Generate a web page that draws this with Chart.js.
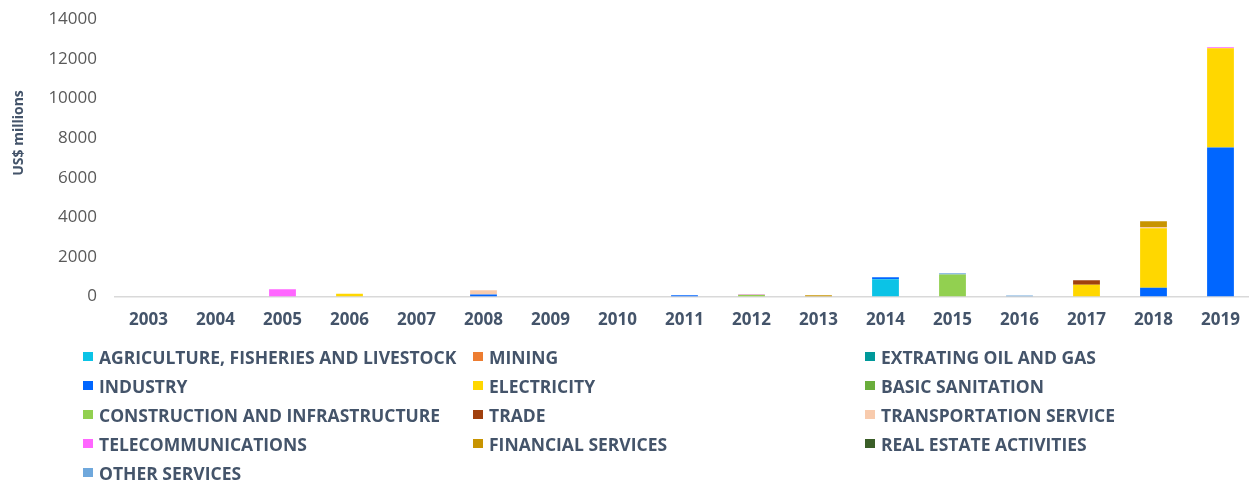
<!DOCTYPE html>
<html>
<head>
<meta charset="utf-8">
<script src="https://cdn.jsdelivr.net/npm/chart.js@4"></script>
<style>
  html, body { margin: 0; padding: 0; background: #fff; overflow: hidden; width: 1249px; height: 480px; }
  #wrap { position: absolute; left: 0; top: -9px; width: 1254px; height: 354px; }
  #legend { position: absolute; left: 83px; top: 342px; display: grid; grid-template-columns: 390px 392px 390px; grid-auto-rows: 29px;
    font-family: "Open Sans", sans-serif; font-weight: 700; font-size: 17.5px; color: #44546A; }
  .item { display: flex; align-items: center; white-space: nowrap; height: 29px; }
  .sw { width: 10px; height: 9px; margin-right: 6px; flex: none; }
</style>
</head>
<body>
<div id="wrap"><canvas id="c"></canvas></div>
<div id="legend"></div>
<script>
const years = ["2003","2004","2005","2006","2007","2008","2009","2010","2011","2012","2013","2014","2015","2016","2017","2018","2019"];
const yTicks = [0, 2000, 4000, 6000, 8000, 10000, 12000, 14000];
const yTitle = "US$ millions";
const seriesNames = ["AGRICULTURE, FISHERIES AND LIVESTOCK","MINING","EXTRATING OIL AND GAS","INDUSTRY","ELECTRICITY","BASIC SANITATION","CONSTRUCTION AND INFRASTRUCTURE","TRADE","TRANSPORTATION SERVICE","TELECOMMUNICATIONS","FINANCIAL SERVICES","REAL ESTATE ACTIVITIES","OTHER SERVICES"];
const seriesColors = ["#0BC3E6","#ED7D31","#00999A","#0066FF","#FFD700","#6AAE3C","#92D050","#A0400E","#F8CBAD","#FF66FF","#C89400","#3A5E28","#6FA8DC"];
//                      03 04  05   06  07  08   09 10 11  12  13  14   15    16  17   18    19
const agriculture   = [0, 0, 0,   0,   0, 0,   0, 0, 0,  0,  0,  880, 0,    0,  0,   0,    0];
const mining        = [0, 0, 0,   0,   0, 0,   0, 0, 0,  0,  0,  0,   0,    0,  0,   0,    0];
const oilGas        = [0, 0, 0,   0,   0, 0,   0, 0, 0,  0,  0,  0,   0,    0,  0,   0,    0];
const industry      = [0, 0, 0,   0,   0, 100, 0, 0, 70, 0,  0,  100, 0,    0,  0,   450,  7520];
const electricity   = [0, 0, 0,   150, 0, 0,   0, 0, 0,  0,  0,  0,   0,    0,  600, 3000, 5020];
const sanitation    = [0, 0, 0,   0,   0, 0,   0, 0, 0,  0,  0,  0,   0,    0,  0,   0,    0];
const construction  = [0, 0, 0,   0,   0, 0,   0, 0, 0,  90, 0,  0,   1120, 0,  0,   0,    0];
const trade         = [0, 0, 0,   0,   0, 0,   0, 0, 0,  0,  0,  0,   0,    0,  230, 0,    0];
const transport     = [0, 0, 0,   0,   0, 220, 0, 0, 0,  0,  0,  0,   0,    0,  0,   60,   0];
const telecom       = [0, 0, 370, 0,   0, 0,   0, 0, 0,  30, 0,  0,   0,    0,  0,   0,    50];
const financial     = [0, 0, 0,   0,   0, 0,   0, 0, 0,  0,  70, 0,   0,    0,  0,   290,  0];
const realEstate    = [0, 0, 0,   0,   0, 0,   0, 0, 0,  0,  0,  0,   0,    0,  0,   0,    0];
const otherServices = [0, 0, 0,   0,   0, 0,   0, 0, 0,  0,  0,  0,   60,   60, 0,   0,    0];
const seriesValues = [agriculture, mining, oilGas, industry, electricity, sanitation, construction, trade, transport, telecom, financial, realEstate, otherServices];

const datasets = seriesNames.map((n, i) => ({
  label: n, data: seriesValues[i], backgroundColor: seriesColors[i], borderWidth: 0,
  barPercentage: 0.4, categoryPercentage: 1.0
}));

const titlePlugin = {
  id: 'ytitle',
  afterDraw(chart) {
    const ctx = chart.ctx;
    ctx.save();
    ctx.translate(19, 142);
    ctx.rotate(-Math.PI / 2);
    ctx.font = 'bold 14px "Open Sans"';
    ctx.fillStyle = '#44546A';
    ctx.textAlign = 'center';
    ctx.textBaseline = 'middle';
    ctx.fillText(yTitle, 0, 0);
    ctx.restore();
  }
};

new Chart(document.getElementById('c'), {
  type: 'bar',
  data: { labels: years, datasets },
  plugins: [titlePlugin],
  options: {
    responsive: true, maintainAspectRatio: false, animation: false,
    layout: { padding: { top: 0, bottom: 2, left: 0, right: 0 } },
    plugins: { legend: { display: false }, tooltip: { enabled: false } },
    scales: {
      x: {
        stacked: true,
        grid: { display: false, drawTicks: false },
        border: { display: true, color: '#D9D9D9', width: 1.5 },
        ticks: { padding: 13, color: '#44546A', font: { family: 'Open Sans', size: 17, weight: 'bold' } }
      },
      y: {
        stacked: true, min: 0, max: 14000,
        afterFit: s => { s.width = 115; },
        afterBuildTicks: s => { s.ticks = yTicks.map(v => ({ value: v })); },
        grid: { display: false, drawTicks: false },
        border: { display: false },
        ticks: { padding: 18, color: '#595959', font: { family: 'Open Sans', size: 17 }, callback: v => String(v) }
      }
    }
  }
});

const lg = document.getElementById('legend');
seriesNames.forEach((n, i) => {
  const d = document.createElement('div'); d.className = 'item';
  const s = document.createElement('span'); s.className = 'sw'; s.style.background = seriesColors[i];
  const t = document.createElement('span'); t.textContent = n;
  d.appendChild(s); d.appendChild(t); lg.appendChild(d);
});
</script>
</body>
</html>
